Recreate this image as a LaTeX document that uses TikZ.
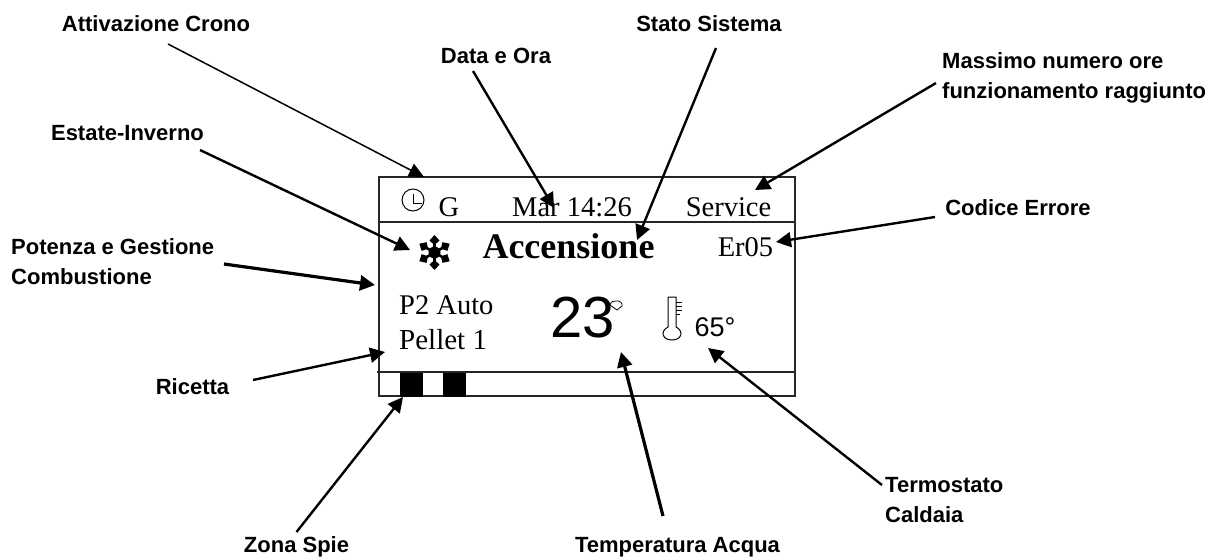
\documentclass[tikz,border=0pt]{standalone}
\usepackage{fontspec}
\setmainfont{Liberation Serif}
\setsansfont{Liberation Sans}
\usetikzlibrary{arrows.meta}
\tikzset{
  x=1pt,y=-1pt,
  lab/.style={font=\fontsize{22}{30}\selectfont\sffamily\bfseries,inner sep=0pt,align=left,text=black},
  disp/.style={font=\fontsize{28.5}{30}\selectfont,inner sep=0pt,text=black},
  big/.style={font=\fontsize{36}{38}\selectfont\bfseries,inner sep=0pt},
  thinarr/.style={line width=1.5pt,-{Triangle[length=15pt,width=14pt]}},
  medarr/.style={line width=2.4pt,-{Triangle[length=15pt,width=15pt]}},
  thickarr/.style={line width=3.2pt,-{Triangle[length=15pt,width=15pt]}},
  frame/.style={line width=1.4pt,draw=black!85},
  spie/.style={fill=black,draw=none,inner sep=0pt,minimum width=23pt,minimum height=24pt},
  icon/.style={line width=1pt,draw=black},
}
\begin{document}
\begin{tikzpicture}
\useasboundingbox (0,0) rectangle (1218,558);
% display frame
\node[frame,draw,minimum width=416pt,minimum height=219pt,inner sep=0pt] (box) at (587,286.5) {};
\coordinate (d1l) at (379,222); \coordinate (d1r) at (795,222);
\coordinate (d2l) at (377,372); \coordinate (d2r) at (795,372);
\draw[frame] (d1l) -- (d1r);
\draw[frame] (d2l) -- (d2r);
\node[spie] (s1) at (411.5,384.5) {};
\node[spie] (s2) at (454.5,384.5) {};
% display text
\node[disp] (g) at (449,207) {G};
\node[disp] (dt) at (572,207) {Mar 14:26};
\node[disp] (serv) at (728.5,207) {Service};
\node[big] (acc) at (568.5,246) {Accensione};
\node[disp] (er) at (745.5,247) {Er05};
\node[disp,anchor=west] (p2) at (399,305) {P2 Auto};
\node[font=\fontsize{29}{30}\selectfont,inner sep=0pt,anchor=west] (pel) at (399,340) {Pellet 1};
\node[font=\fontsize{58}{60}\selectfont\sffamily,inner sep=0pt] (t23) at (582.5,318) {23};
\node[font=\fontsize{27}{29}\selectfont\sffamily,inner sep=0pt] (t65) at (715,327) {65°};
% clock icon
\node[circle,icon,draw,minimum size=22pt,inner sep=0pt] (clock) at (413,200) {};
\coordinate (hand) at (413,203);
\draw[icon] (413,194) -- (hand) -- (422,203);
% snowflake
\begin{scope}[shift={(434.5,252.5)}]
  \fill (0,0) circle (6);
  \foreach \a in {30,90,150,210,270,330}{
    \begin{scope}[rotate=\a]
      \draw[line width=2.6pt] (0,0) -- (14,0);
      \fill (7.5,0) -- (12,-5) -- (17.5,0) -- (12,5) -- cycle;
    \end{scope}
  }
\end{scope}
% small cloud by 23
\draw[line width=.8pt,fill=white] (610,305) .. controls (611,301) and (614,301) .. (616,301) .. controls (619,300) and (623,303) .. (622,306) -- (617,310) -- (610,305);
% thermometer
\draw[icon] (668,297) -- (668,327) .. controls (660,331) and (662,340) .. (672,340) .. controls (682,340) and (684,331) .. (676,327) -- (676,297) -- cycle;
\draw[icon] (676,302) -- (682,302) (676,306) -- (682,306) (676,310) -- (682,310) (676,314) -- (680,314);
% labels
\node[lab] (attiv) at (156,24) {Attivazione Crono};
\node[lab] (data) at (496,56) {Data e Ora};
\node[lab] (stato) at (709,24) {Stato Sistema};
\node[lab,anchor=west] (mass) at (942,78) {Massimo numero ore\\funzionamento raggiunto};
\node[lab] (estate) at (127.5,133) {Estate-Inverno};
\node[lab] (cod) at (1018,208) {Codice Errore};
\node[lab,anchor=west] (pot) at (11,262) {Potenza e Gestione\\Combustione};
\node[lab] (ric) at (192.5,387) {Ricetta};
\node[lab] (zona) at (296.5,547) {Zona Spie};
\node[lab] (temp) at (677.5,547) {Temperatura Acqua};
\node[lab,anchor=west] (term) at (885,500.5) {Termostato\\Caldaia};
% tips
\coordinate (tA) at (424,177);
\coordinate (tD) at (554,208);
\coordinate (tS) at (637,240);
\coordinate (tM) at (755,190);
\coordinate (tC) at (776,242);
\coordinate (tE) at (410,250);
\coordinate (tP) at (375,285);
\coordinate (tR) at (385,352);
\coordinate (tZ) at (403,397);
\coordinate (tT) at (621,352);
\coordinate (tH) at (708,348);
% connectors
\draw[thinarr] ([shift={(12,20)}]attiv.center) -- (tA);
\draw[medarr] ([shift={(-23,15)}]data.center) -- (tD);
\draw[medarr] ([shift={(7,24)}]stato.center) -- (tS);
\draw[medarr] ([shift={(-6,5)}]mass.west) -- (tM);
\draw[medarr] ([shift={(-83,9)}]cod.center) -- (tC);
\draw[medarr] ([shift={(72.5,17)}]estate.center) -- (tE);
\draw[thickarr] ([shift={(213,2)}]pot.west) -- (tP);
\draw[medarr] ([shift={(60.5,-7)}]ric.center) -- (tR);
\draw[medarr] ([shift={(0,-15)}]zona.center) -- (tZ);
\draw[thickarr] ([shift={(-14.5,-31)}]temp.center) -- (tT);
\draw[medarr] ([shift={(-3,-15.5)}]term.west) -- (tH);
\end{tikzpicture}
\end{document}
